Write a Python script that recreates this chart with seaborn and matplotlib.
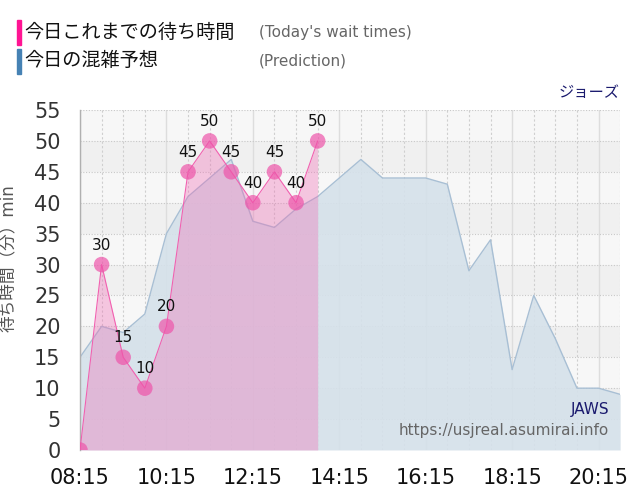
import seaborn as sns
import pandas as pd
import matplotlib.pyplot as plt
from matplotlib.patches import Rectangle

# data
actual_times = ["08:15", "08:45", "09:15", "09:45", "10:15", "10:45",
                "11:15", "11:45", "12:15", "12:45", "13:15", "13:45"]
actual_waits = [0, 30, 15, 10, 20, 45, 50, 45, 40, 45, 40, 50]

pred_times = ["08:15", "08:45", "09:15", "09:45", "10:15", "10:45", "11:15",
              "11:45", "12:15", "12:45", "13:15", "13:45", "14:15", "14:45",
              "15:15", "15:45", "16:15", "16:45", "17:15", "17:45", "18:15",
              "18:45", "19:15", "19:45", "20:15", "20:45"]
pred_waits = [15, 20, 19, 22, 35, 41, 44, 47, 37, 36, 39, 41, 44, 47,
              44, 44, 44, 43, 29, 34, 13, 25, 18, 10, 10, 9]

tick_labels = ["08:15", "10:15", "12:15", "14:15", "16:15", "18:15", "20:15"]


def to_min(t):
  h, m = t.split(":")
  return (int(h) - 8) * 60 + int(m) - 15


df_act = pd.DataFrame({"t": [to_min(t) for t in actual_times], "wait": actual_waits})
df_pred = pd.DataFrame({"t": [to_min(t) for t in pred_times], "wait": pred_waits})

sns.set_style("white")
plt.rcParams["font.family"] = ["DejaVu Sans", "Noto Sans CJK JP"]

fig = plt.figure(figsize=(6.4, 5), dpi=100)
ax = fig.add_axes([0.125, 0.1, 0.844, 0.68])

# alternating horizontal bands
for i in range(11):
  ax.axhspan(i * 5, i * 5 + 5, color="#f7f7f7" if i % 2 == 0 else "#f0f0f0", lw=0, zorder=0)

# grid
for m in range(0, 751, 30):
  if m % 120 == 0:
    ax.axvline(m, color="#dddddd", lw=1, zorder=0.5)
  else:
    ax.axvline(m, color="#cfcfcf", lw=0.8, ls=(0, (2, 2)), zorder=0.5)
for v in range(5, 56, 5):
  ax.axhline(v, color="#c8c8c8", lw=0.8, ls=(0, (1, 1.5)), zorder=0.5)

# prediction
ax.fill_between(df_pred["t"], df_pred["wait"], color="#d5e1ea", alpha=0.9, lw=0, zorder=1)
sns.lineplot(data=df_pred, x="t", y="wait", ax=ax, color="#a8bfd4", lw=1, zorder=2)

# actual
ax.fill_between(df_act["t"], df_act["wait"], color="#f06ab4", alpha=0.35, lw=0, zorder=3)
sns.lineplot(data=df_act, x="t", y="wait", ax=ax, color="#f260b0", lw=0.8, zorder=4)
sns.scatterplot(data=df_act, x="t", y="wait", ax=ax, color="#ee55aa", alpha=0.7,
                s=125, edgecolor="none", zorder=5)
for t, w in zip(df_act["t"], df_act["wait"]):
  if w > 0:
    ax.annotate(str(w), (t, w), xytext=(0, 14), textcoords="offset points",
                ha="center", va="center", fontsize=11, color="#111111", zorder=6)

ax.set_xlim(0, 750)
ax.set_ylim(0, 55)
ax.set_xticks([to_min(t) for t in tick_labels])
ax.set_xticklabels(tick_labels)
ax.set_yticks(range(0, 56, 5))
ax.tick_params(axis="x", labelsize=15, length=10, color="#dddddd", pad=3, labelcolor="#111111")
ax.tick_params(axis="y", labelsize=15, length=0, pad=14, labelcolor="#333333")
ax.set_xlabel("")
ax.set_ylabel("待ち時間（分）min", fontsize=12, color="#555555")
ax.yaxis.set_label_coords(-0.117, 0.565)

for s in ["top", "right", "bottom"]:
  ax.spines[s].set_visible(False)
ax.spines["left"].set_color("#b0b0b0")
ax.spines["left"].set_linewidth(1)

ax.text(0.98, 0.118, "JAWS", transform=ax.transAxes, ha="right", va="center",
        fontsize=11, color="#1a1a6e")
ax.text(0.98, 0.056, "https://usjreal.asumirai.info", transform=ax.transAxes,
        ha="right", va="center", fontsize=11, color="#666666")

# legend header
fig.patches.append(Rectangle((17 / 640, 1 - 45 / 500), 4 / 640, 25 / 500,
                             transform=fig.transFigure, color="#ff1493"))
fig.patches.append(Rectangle((17 / 640, 1 - 74 / 500), 4 / 640, 25 / 500,
                             transform=fig.transFigure, color="#4682b4"))
fig.text(24 / 640, 1 - 32 / 500, "今日これまでの待ち時間", fontsize=13.8, color="#111111", va="center")
fig.text(24 / 640, 1 - 61 / 500, "今日の混雑予想", fontsize=13.8, color="#111111", va="center")
fig.text(259 / 640, 1 - 32 / 500, "(Today's wait times)", fontsize=11, color="#666666", va="center")
fig.text(259 / 640, 1 - 61 / 500, "(Prediction)", fontsize=11, color="#666666", va="center")
fig.text(620 / 640, 1 - 93 / 500, "ジョーズ", fontsize=11, color="#1a1a6e", ha="right", va="center")

fig.savefig("out.png", dpi=100)
